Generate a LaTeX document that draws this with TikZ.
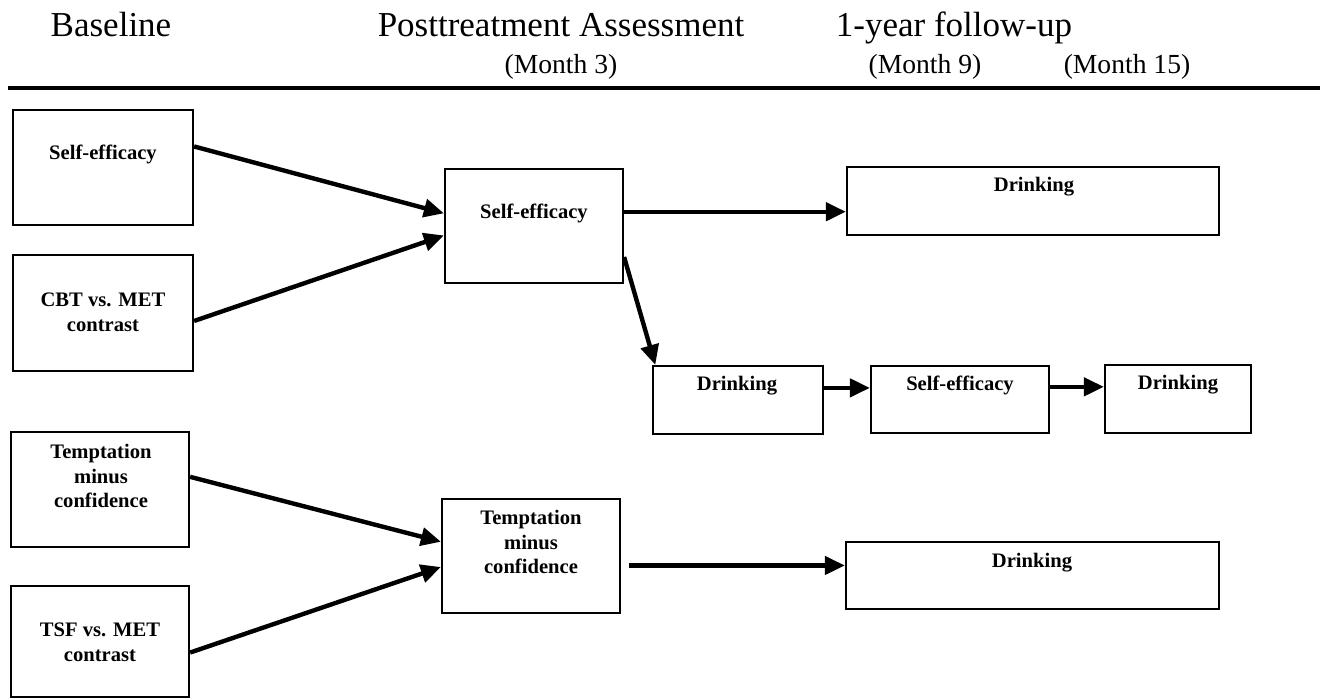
\documentclass[tikz,border=0pt]{standalone}
\usepackage{fontspec}
\setmainfont{Liberation Serif}
\usetikzlibrary{arrows.meta}

\begin{document}
\begin{tikzpicture}[x=0.5pt, y=-0.5pt,
      box/.style={rectangle, draw, line width=1.1pt, inner sep=0pt},
      boxtext/.style={align=center, inner sep=0pt, font=\fontsize{10.3}{12.4}\selectfont\bfseries},
      head/.style={anchor=base, inner sep=0pt, font=\fontsize{17.5}{20}\selectfont},
      month/.style={anchor=base, inner sep=0pt, font=\fontsize{13.8}{16}\selectfont},
      arrow/.style={-{Triangle[length=10pt, width=9pt]}, line width=2.2pt}
    ]
    \useasboundingbox (0,0) rectangle (1323,700);

    % header
    \node[head] (baseline) at (111,37) {Baseline};
    \node[head] (posttx) at (561,37) {Posttreatment Assessment};
    \node[head] (followup) at (954,37) {1-year follow-up};
    \node[month] (month3) at (561,74) {(Month 3)};
    \node[month] (month9) at (925,74) {(Month 9)};
    \node[month] (month15) at (1127,74) {(Month 15)};
    \draw[line width=2pt] (8,88) coordinate (ruleL) -- (1320,88) coordinate (ruleR);

    % baseline
    \node[box, minimum width=90pt, minimum height=57.5pt] (seBase) at (103,167.5) {};
    \node[boxtext] (seBaseLbl) at (103,154) {Self-efficacy};
    \node[box, minimum width=90pt, minimum height=58pt] (cbtBase) at (103,313) {};
    \node[boxtext] (cbtBaseLbl) at (103,312) {CBT vs. MET\\contrast};
    \node[box, minimum width=89pt, minimum height=57.5pt] (tmcBase) at (100,489.5) {};
    \node[boxtext] (tmcBaseLbl) at (101,476) {Temptation\\minus\\confidence};
    \node[box, minimum width=89pt, minimum height=55.5pt] (tsfBase) at (100,641.5) {};
    \node[boxtext] (tsfBaseLbl) at (100,642) {TSF vs. MET\\contrast};

    % posttreatment
    \node[box, minimum width=89pt, minimum height=57pt] (seMid) at (534,226) {};
    \node[boxtext] (seMidLbl) at (534,213) {Self-efficacy};
    \node[box, minimum width=89pt, minimum height=57pt] (tmcMid) at (531,556) {};
    \node[boxtext] (tmcMidLbl) at (531,542) {Temptation\\minus\\confidence};
    \node[box, minimum width=85pt, minimum height=34pt] (drinkMid) at (738,400) {};
    \node[boxtext] (drinkMidLbl) at (737,386) {Drinking};

    % follow-up
    \node[box, minimum width=186pt, minimum height=34pt] (drinkTop) at (1033,201) {};
    \node[boxtext] (drinkTopLbl) at (1034,187) {Drinking};
    \node[box, minimum width=89pt, minimum height=33.5pt] (seLate) at (960,399.5) {};
    \node[boxtext] (seLateLbl) at (960,385) {Self-efficacy};
    \node[box, minimum width=73pt, minimum height=34pt] (drinkLate) at (1178,399) {};
    \node[boxtext] (drinkLateLbl) at (1178,385) {Drinking};
    \node[box, minimum width=186.5pt, minimum height=33.5pt] (drinkBot) at (1032.5,575.5) {};
    \node[boxtext] (drinkBotLbl) at (1032,563) {Drinking};

    % paths
    \draw[arrow] (seBase.13) -- (seMid.172);
    \draw[arrow] (cbtBase.-5) -- (seMid.186);
    \draw[arrow] (seMid.9) -- (seMid.9 -| drinkTop.west);
    \draw[arrow] (seMid.-19) -- (drinkMid.157);
    \draw[arrow] (drinkMid.8) -- (drinkMid.8 -| seLate.west);
    \draw[arrow] (seLate.8) -- (seLate.8 -| drinkLate.west);
    \draw[arrow] (tmcBase.8) -- (tmcMid.171);
    \draw[arrow] (tsfBase.-7) -- (tmcMid.187);
    \draw[arrow, shorten <=4pt] (tmcMid.-6) -- (tmcMid.-6 -| drinkBot.west);
  \end{tikzpicture}
\end{document}
